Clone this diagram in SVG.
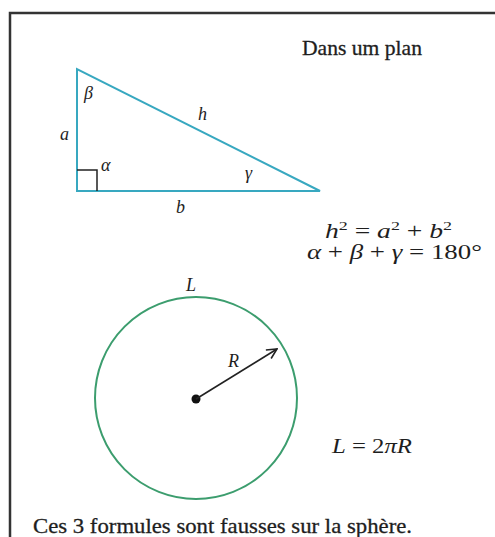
<svg xmlns="http://www.w3.org/2000/svg" width="495" height="537" viewBox="0 0 495 537">
<style>
text{font-family:'Liberation Serif','DejaVu Serif',serif;fill:#1e1e1e}
.v{font-style:italic}
.tri{fill:none;stroke:#38a8c0;stroke-width:2}
.circ{fill:none;stroke:#3c9d6e;stroke-width:2}
</style>
<defs>
<marker id="arr" viewBox="0 0 12 12" refX="11" refY="6" markerWidth="12" markerHeight="12" markerUnits="userSpaceOnUse" orient="auto">
<path d="M1,1 L11,6 L1,11" fill="none" stroke="#222" stroke-width="1.6"/>
</marker>
</defs>
<rect width="495" height="537" fill="#fff"/>
<rect x="10" y="13" width="500" height="540" fill="none" stroke="#333" stroke-width="2.5"/>
<text x="302" y="55" font-size="21" stroke="#1e1e1e" stroke-width="0.3" textLength="120" lengthAdjust="spacingAndGlyphs">Dans um plan</text>
<g id="triangle">
<path class="tri" d="M77,69 L77,191 L320,191 Z"/>
<path d="M77,170 L97,170 L97,191" fill="none" stroke="#222" stroke-width="1.5"/>
<text class="v" x="84" y="99" font-size="18">β</text>
<text class="v" x="60" y="140" font-size="18">a</text>
<text class="v" x="101" y="171" font-size="18">α</text>
<text class="v" x="198" y="120" font-size="18">h</text>
<text class="v" x="245" y="179" font-size="18">γ</text>
<text class="v" x="176" y="213" font-size="18">b</text>
</g>
<g id="formulas">
<text x="325" y="238" font-size="20" textLength="127" lengthAdjust="spacingAndGlyphs"><tspan class="v">h</tspan><tspan font-size="13" dy="-8">2</tspan><tspan dy="8"> = </tspan><tspan class="v">a</tspan><tspan font-size="13" dy="-8">2</tspan><tspan dy="8"> + </tspan><tspan class="v">b</tspan><tspan font-size="13" dy="-8">2</tspan></text>
<text x="307" y="259" font-size="20" textLength="175" lengthAdjust="spacingAndGlyphs"><tspan class="v">α</tspan> + <tspan class="v">β</tspan> + <tspan class="v">γ</tspan> = 180°</text>
</g>
<g id="circle">
<circle class="circ" cx="196" cy="398" r="101"/>
<circle cx="196" cy="399" r="4.5" fill="#111"/>
<text class="v" x="186" y="291" font-size="18">L</text>
<text class="v" x="228" y="367" font-size="18">R</text>
</g>
<g id="connectors">
<line x1="196" y1="399" x2="277" y2="349" stroke="#222" stroke-width="1.6" marker-end="url(#arr)"/>
</g>
<text x="332" y="453" font-size="20" textLength="80" lengthAdjust="spacingAndGlyphs"><tspan class="v">L</tspan> = 2<tspan class="v">πR</tspan></text>
<text x="33" y="533" font-size="22" stroke="#1e1e1e" stroke-width="0.3" textLength="379" lengthAdjust="spacingAndGlyphs">Ces 3 formules sont fausses sur la sphère.</text>
</svg>
